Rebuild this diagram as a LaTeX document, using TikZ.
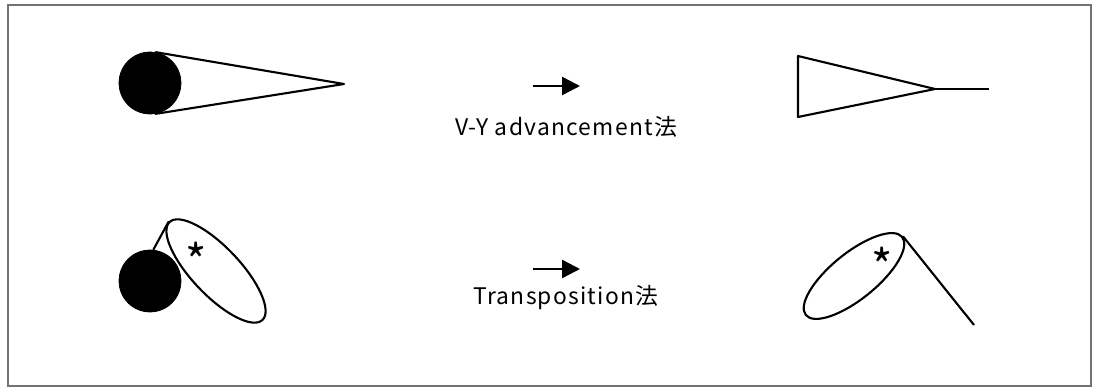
\documentclass[tikz,border=0pt]{standalone}
\usepackage{fontspec}
\setmainfont{Noto Sans CJK JP}
\newfontfamily\capfont[LetterSpace=5.5]{Noto Sans CJK JP}
\usepackage{tikz}
\usetikzlibrary{calc,shapes.geometric,arrows.meta}

\tikzset{
  lump/.style={circle, draw, fill=black, minimum size=1.24cm, inner sep=0pt},
  flap/.style={ellipse, draw, line width=1.2pt, inner sep=0pt},
  edge/.style={line width=1.2pt, line join=round},
  move/.style={line width=1.4pt, -{Triangle[length=0.36cm,width=0.36cm]}},
  caption/.style={font=\capfont\fontsize{13}{15}\selectfont},
  star/.style={font=\fontsize{26}{26}\selectfont, inner sep=0pt}
}

\begin{document}
\begin{tikzpicture}[x=0.02cm, y=-0.02cm]
        \useasboundingbox (0,0) rectangle (1096,388);
        % Frame
        \draw[gray!90!black, line width=0.6pt] (8,5) rectangle (1091,386);

        % V-Y advancement, before
        \node[lump] (lump1) at (150,83) {};
        \coordinate (tip1) at (344,84);
        \draw[edge] (tangent cs:node=lump1,point={(tip1)},solution=1) -- (tip1)
                -- (tangent cs:node=lump1,point={(tip1)},solution=2);

        % V-Y advancement, after
        \coordinate (base1) at (798,56);
        \coordinate (base2) at (798,117);
        \coordinate (tip2) at (935,89);
        \coordinate (tail1) at (989,89);
        \draw[edge] (base1) -- (tip2) -- (base2) -- cycle;
        \draw[edge] (tip2) -- (tail1);

        % Arrow and label
        \coordinate (from1) at (533,86);
        \coordinate (to1) at (580,86);
        \draw[move] (from1) -- (to1);
        \node[caption] (vylabel) at (566,127) {V-Y advancement法};

        % Transposition, before
        \node[lump] (lump2) at (150,281) {};
        \node[flap, minimum width=2.7cm, minimum height=0.96cm, rotate=-46.5] (flap1) at (216,271) {};
        \draw[edge] (lump2.84) -- (flap1.west);
        \node[star] (star1) at (196,260) {*};

        % Transposition, after
        \node[flap, minimum width=2.48cm, minimum height=0.92cm, rotate=39] (flap2) at (854,276) {};
        \coordinate (tail2) at (974,325);
        \draw[edge] (flap2.east) -- (tail2);
        \node[star] (star2) at (882,265) {*};

        % Arrow and label
        \coordinate (from2) at (533,269);
        \coordinate (to2) at (580,269);
        \draw[move] (from2) -- (to2);
        \node[caption] (tplabel) at (566,298) {Transposition法};
    \end{tikzpicture}
\end{document}
